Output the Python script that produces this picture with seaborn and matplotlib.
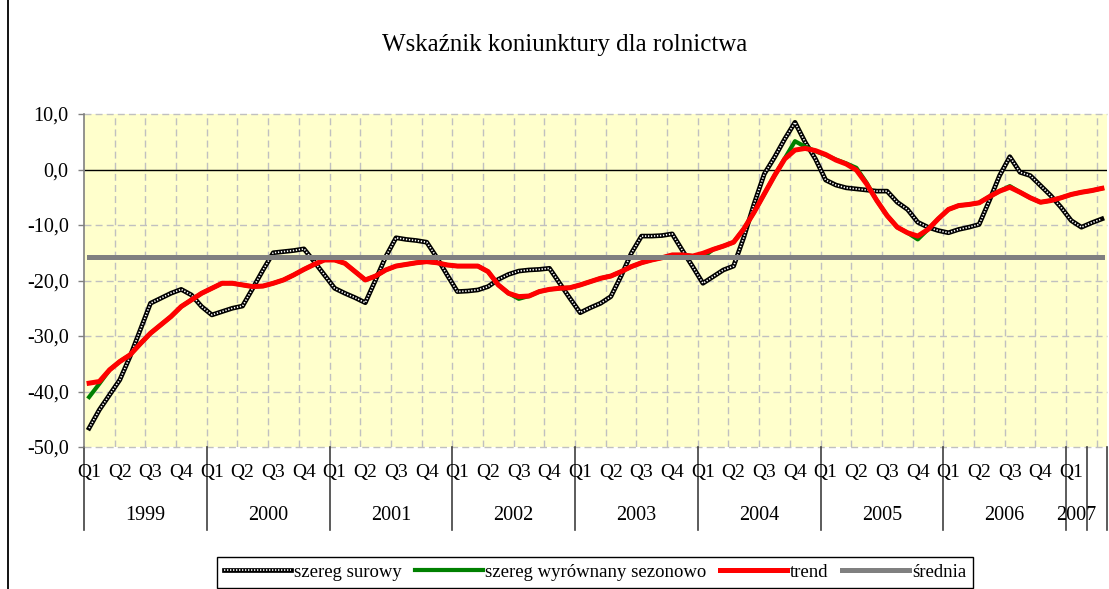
import numpy as np
import pandas as pd
import matplotlib
matplotlib.use('Agg')
import matplotlib.pyplot as plt
import seaborn as sns
from matplotlib.lines import Line2D
from matplotlib.legend_handler import HandlerTuple
from matplotlib.ticker import FuncFormatter
import matplotlib.transforms as mtransforms

# ---- data (monthly, Jan 1999 - Apr 2007) ----
lata = ['1999', '2000', '2001', '2002', '2003', '2004', '2005', '2006', '2007', '']
miesiace_w_grupie = [12, 12, 12, 12, 12, 12, 12, 12, 2, 2]
kwartaly = ['Q1', 'Q2', 'Q3', 'Q4']

surowy = [-46.6, -43.3, -40.6, -37.9, -33.7, -28.9, -24.1, -23.2, -22.3, -21.6,
          -22.6, -24.7, -26.2, -25.6, -25.0, -24.6, -21.4, -18.1, -15.0, -14.8,
          -14.6, -14.3, -16.6, -19.0, -21.4, -22.3, -23.1, -24.0, -19.9, -15.7,
          -12.3, -12.6, -12.8, -13.1, -15.9, -19.0, -22.0, -21.9, -21.7, -21.1,
          -19.8, -18.9, -18.3, -18.1, -18.0, -17.8, -20.5, -23.2, -25.8, -24.9,
          -24.1, -22.9, -19.2, -15.1, -12.0, -12.0, -11.9, -11.6, -14.6, -17.5,
          -20.5, -19.3, -18.1, -17.4, -12.2, -6.2, -0.8, 2.2, 5.5, 8.5,
          4.9, 1.9, -1.9, -2.8, -3.3, -3.5, -3.7, -3.9, -3.9, -5.9,
          -7.2, -9.5, -10.4, -11.0, -11.4, -10.8, -10.4, -9.9, -5.6, -1.1,
          2.3, -0.5, -1.1, -2.9, -4.7, -6.8, -9.2, -10.4, -9.6, -8.9]

wyrownany = [-41.0, -38.6, -36.1, -34.6, -33.4, -31.4, -29.5, -28.0, -26.5, -24.7,
             -23.5, -22.3, -21.4, -20.5, -20.5, -20.8, -21.1, -21.0, -20.5, -19.9,
             -19.0, -18.0, -17.1, -16.3, -16.3, -16.9, -18.4, -19.9, -19.2, -18.1,
             -17.4, -17.1, -16.8, -16.6, -16.8, -17.2, -17.4, -17.4, -17.4, -18.4,
             -20.8, -22.3, -23.3, -22.8, -22.0, -21.6, -21.4, -21.3, -20.8, -20.2,
             -19.6, -19.2, -18.4, -17.5, -16.8, -16.3, -15.9, -15.4, -15.4, -15.6,
             -15.8, -14.4, -13.8, -13.1, -10.7, -7.7, -4.4, -1.1, 2.0, 5.1,
             4.1, 3.3, 2.6, 1.8, 1.1, 0.3, -2.4, -5.6, -8.3, -10.4,
             -11.4, -12.6, -10.8, -8.9, -7.2, -6.5, -6.3, -6.0, -4.9, -3.9,
             -3.0, -4.1, -5.1, -5.9, -5.6, -5.1, -4.5, -4.1, -3.8, -3.4]

trend = [-38.5, -38.2, -36.1, -34.6, -33.4, -31.4, -29.5, -28.0, -26.5, -24.7,
         -23.5, -22.3, -21.4, -20.5, -20.5, -20.8, -21.1, -21.0, -20.5, -19.9,
         -19.0, -18.0, -17.1, -16.3, -16.3, -16.9, -18.4, -19.9, -19.2, -18.1,
         -17.4, -17.1, -16.8, -16.6, -16.8, -17.2, -17.4, -17.4, -17.4, -18.4,
         -20.8, -22.3, -22.9, -22.8, -22.0, -21.6, -21.4, -21.3, -20.8, -20.2,
         -19.6, -19.2, -18.4, -17.5, -16.8, -16.3, -15.9, -15.4, -15.4, -15.6,
         -15.1, -14.4, -13.8, -13.1, -10.7, -7.7, -4.4, -1.1, 1.9, 3.5,
         3.8, 3.4, 2.7, 1.7, 1.0, -0.1, -2.6, -5.6, -8.3, -10.4,
         -11.4, -12.0, -10.8, -8.9, -7.2, -6.5, -6.3, -6.0, -4.9, -3.9,
         -3.2, -4.1, -5.1, -5.9, -5.6, -5.1, -4.5, -4.1, -3.8, -3.4]

srednia = -15.8

n = len(surowy)
df = pd.DataFrame({
    'm': np.arange(n),
    'surowy': surowy,
    'wyrownany': wyrownany,
    'trend': trend,
    'srednia': [srednia] * n,
})

FONT = 'Liberation Serif'
plt.rcParams['font.family'] = [FONT, 'DejaVu Serif']

W, H = 1109, 589
fig = plt.figure(figsize=(W / 100, H / 100), dpi=100)
fig.patch.set_facecolor('white')
L, R, T, B = 84, 1107, 114, 447
ax = fig.add_axes([L / W, 1 - B / H, (R - L) / W, (B - T) / H])
ax.set_facecolor('#FFFFCC')

# grid
for v in range(-50, 11, 10):
    if v != 0:
        ax.axhline(v, color='#C0C0C0', lw=1.0, ls=(0, (5, 3)), zorder=0.5, clip_on=False)
for q in np.arange(2.5, n - 0.5, 3):
    ax.axvline(q, color='#C0C0C0', lw=1.0, ls=(0, (5, 3)), zorder=0.5)
ax.axhline(0, color='black', lw=1.0, zorder=1)

# series
sns.lineplot(data=df, x='m', y='surowy', ax=ax, color='black', lw=3.4, zorder=3)
sns.lineplot(data=df, x='m', y='surowy', ax=ax, color='white', lw=1.2,
             linestyle=(0, (0.8, 1.0)), zorder=3.1)
sns.lineplot(data=df, x='m', y='wyrownany', ax=ax, color='#008000', lw=3.0, zorder=4)
sns.lineplot(data=df, x='m', y='trend', ax=ax, color='#FF0000', lw=3.6, zorder=5)
sns.lineplot(data=df, x='m', y='srednia', ax=ax, color='#808080', lw=3.6, zorder=6)

ax.set_xlim(-0.5, n - 0.5)
ax.set_ylim(-50, 10)
ax.set_xlabel('')
ax.set_ylabel('')
ax.set_yticks(range(-50, 11, 10))
ax.yaxis.set_major_formatter(FuncFormatter(lambda v, p: f'{v:.1f}'.replace('.', ',')))
ax.set_xticks([])
ax.tick_params(axis='y', length=4, width=1, color='#808080', pad=7, labelsize=14.5)
for lab in ax.get_yticklabels():
    lab.set_fontfamily(FONT)
for s in ['top', 'right', 'bottom']:
    ax.spines[s].set_visible(False)
ax.spines['left'].set_color('#808080')
ax.spines['left'].set_linewidth(1.2)

# multi-level category axis
tr = mtransforms.blended_transform_factory(ax.transData, ax.transAxes)
ph = B - T
y_q = -(473 - B) / ph
y_year = -(515 - B) / ph
y_sep = -(530 - B) / ph
start = 0
bounds = [-0.5]
for lab, cnt in zip(lata, miesiace_w_grupie):
    end = start + cnt
    bounds.append(end - 0.5)
    if lab:
        ax.text((start + end - 1) / 2, y_year, lab, transform=tr, ha='center', va='center',
                fontsize=14.5, fontfamily=FONT)
        for m in range(start, end):
            if m % 3 == 0:
                ax.text(m, y_q, kwartaly[(m % 12) // 3], transform=tr, ha='center', va='center',
                        fontsize=14, fontfamily=FONT)
    start = end
for b in bounds:
    ax.add_line(Line2D([b, b], [0, y_sep], transform=tr, color='#404040', lw=1.2, clip_on=False))

# title
fig.text(565 / W, 1 - 45 / H, 'Wskaźnik koniunktury dla rolnictwa', ha='center', va='center',
         fontsize=18, fontfamily=FONT)

# chart border (left edge)
fig.add_artist(Line2D([8 / W, 8 / W], [0, 1], transform=fig.transFigure, color='black', lw=1.3))

# legend
h_raw = (Line2D([], [], color='black', lw=3.4),
         Line2D([], [], color='white', lw=1.2, linestyle=(0, (0.8, 1.0))))
h_green = Line2D([], [], color='#008000', lw=3.0)
h_red = Line2D([], [], color='#FF0000', lw=3.6)
h_gray = Line2D([], [], color='#808080', lw=3.6)
leg = fig.legend([h_raw, h_green, h_red, h_gray],
                 ['szereg surowy', 'szereg wyrównany sezonowo', 'trend', 'średnia'],
                 handler_map={tuple: HandlerTuple(ndivide=1)},
                 loc='lower center', bbox_to_anchor=(595 / W, 1.5 / H), ncol=4,
                 frameon=True, fancybox=False, edgecolor='black', framealpha=1,
                 prop={'family': FONT, 'size': 13.5}, handlelength=3.6, handletextpad=0.15,
                 columnspacing=0.7, borderpad=0.35, borderaxespad=0)
leg.get_frame().set_linewidth(1.0)

fig.savefig('out.png', dpi=100, facecolor='white')
